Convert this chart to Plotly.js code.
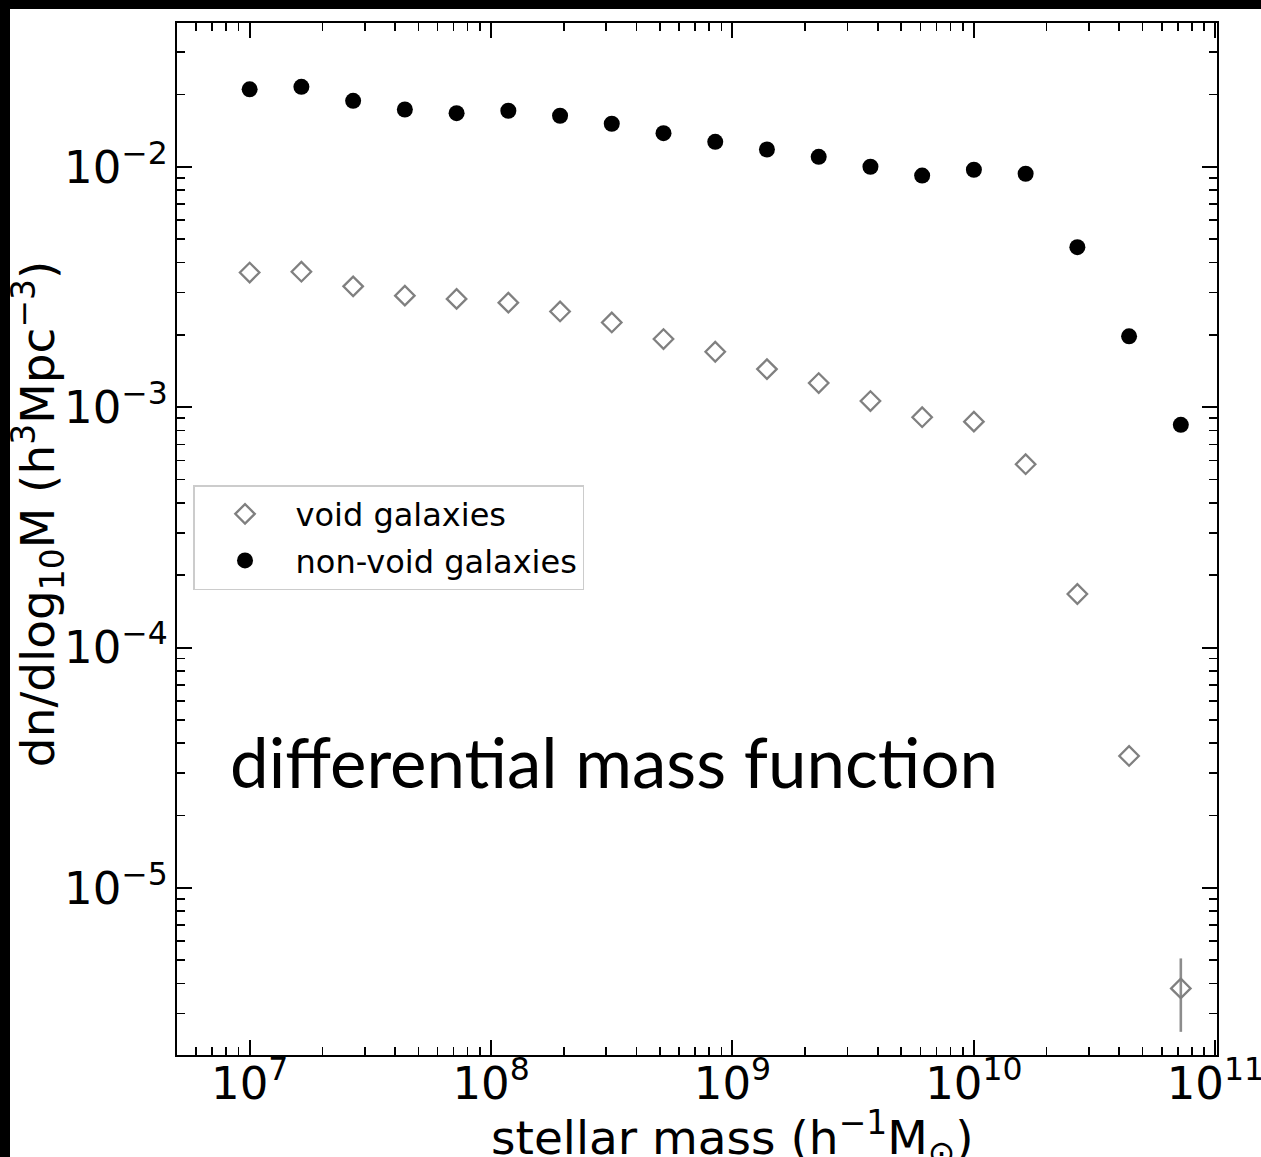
<!DOCTYPE html>
<html>
<head>
<meta charset="utf-8">
<script src="https://cdn.plot.ly/plotly-3.0.1.min.js"></script>
<style>
  html, body { margin: 0; padding: 0; background: #000; width: 1261px; height: 1157px; overflow: hidden; }
  #plot { position: absolute; left: 10px; top: 9px; width: 1251px; height: 1200px; background: #fff; }
</style>
</head>
<body>
<div id="plot"></div>
<script>
// Stellar mass bin centres (h^-1 M_sun)
const stellarMass = [
  1.000e7, 1.638e7, 2.683e7, 4.394e7, 7.197e7, 1.179e8, 1.931e8, 3.162e8,
  5.179e8, 8.483e8, 1.389e9, 2.276e9, 3.728e9, 6.105e9, 1.000e10, 1.638e10,
  2.683e10, 4.394e10, 7.197e10
];

// dn/dlog10 M for galaxies inside voids (h^3 Mpc^-3)
const voidDensity = [
  3.63e-3, 3.66e-3, 3.18e-3, 2.91e-3, 2.82e-3, 2.72e-3, 2.50e-3, 2.25e-3,
  1.92e-3, 1.70e-3, 1.44e-3, 1.26e-3, 1.06e-3, 9.08e-4, 8.70e-4, 5.79e-4,
  1.67e-4, 3.54e-5, 3.82e-6
];
const voidErrUp   = [0, 0, 0, 0, 0, 0, 0, 0, 0, 0, 0, 0, 0, 0, 0, 0, 0, 0, 1.27e-6];
const voidErrDown = [0, 0, 0, 0, 0, 0, 0, 0, 0, 0, 0, 0, 0, 0, 0, 0, 0, 0, 1.30e-6];

// dn/dlog10 M for galaxies outside voids (h^3 Mpc^-3)
const nonVoidDensity = [
  2.10e-2, 2.15e-2, 1.88e-2, 1.73e-2, 1.67e-2, 1.71e-2, 1.63e-2, 1.51e-2,
  1.38e-2, 1.27e-2, 1.18e-2, 1.10e-2, 1.00e-2, 9.19e-3, 9.72e-3, 9.35e-3,
  4.63e-3, 1.97e-3, 8.44e-4
];

const seriesNames = ['void galaxies', 'non-void galaxies'];
const xTitle = 'stellar mass (h<sup>−1</sup>M<sub>⊙</sub>)';
const yTitle = 'dn/dlog<sub>10</sub>M (h<sup>3</sup>Mpc<sup>−3</sup>)';

const tickFont = { family: 'DejaVu Sans', size: 36, color: '#000' };
const labelFont = { family: 'DejaVu Sans', size: 47, color: '#000' };

const traces = [
  {
    x: stellarMass,
    y: voidDensity,
    name: seriesNames[0],
    legendgroup: 'void',
    type: 'scatter',
    mode: 'markers',
    marker: { symbol: 'diamond-open', size: 15, color: '#808080', line: { width: 2.3, color: '#808080' } },
    error_y: { type: 'data', symmetric: false, array: voidErrUp, arrayminus: voidErrDown,
               color: '#8c8c8c', thickness: 2.6, width: 0 }
  },
  {
    x: stellarMass,
    y: nonVoidDensity,
    name: seriesNames[1],
    legendgroup: 'nonvoid',
    type: 'scatter',
    mode: 'markers',
    marker: { symbol: 'circle', size: 16, color: '#000' }
  }
];

const axisCommon = {
  type: 'log',
  dtick: 1,
  exponentformat: 'power',
  showgrid: false,
  zeroline: false,
  showline: true,
  linecolor: '#000',
  linewidth: 2,
  mirror: 'allticks',
  ticks: 'inside',
  ticklen: 15,
  tickwidth: 2,
  tickcolor: '#000',
  tickfont: tickFont,
  ticklabeloverflow: 'allow',
  minor: { ticks: 'inside', ticklen: 8, tickwidth: 1.6, tickcolor: '#000', showgrid: false }
};

const layout = {
  width: 1251,
  height: 1200,
  margin: { l: 167, r: 44, t: 14, b: 154 },
  paper_bgcolor: '#fff',
  plot_bgcolor: '#fff',
  showlegend: true,
  xaxis: Object.assign({}, axisCommon, {
    range: [6.699, 11.007],
    ticklabelstandoff: -10
  }),
  yaxis: Object.assign({}, axisCommon, {
    range: [-5.695, -1.402]
  }),
  legend: {
    x: 0.0154, y: 0.5523, xanchor: 'left', yanchor: 'top',
    bgcolor: '#fff', bordercolor: '#cccccc', borderwidth: 1.5,
    font: { family: 'DejaVu Sans', size: 32, color: '#000' },
    itemwidth: 91,
    tracegroupgap: 2
  },
  annotations: [
    {
      // horizontal axis label, below the tick labels
      xref: 'paper', yref: 'paper', x: 0.534, y: -0.0795,
      xanchor: 'center', yanchor: 'middle', showarrow: false,
      text: xTitle,
      font: labelFont
    },
    {
      // vertical axis label, drawn in the left margin
      xref: 'paper', yref: 'paper', x: -0.1337, y: 0.524,
      xanchor: 'center', yanchor: 'middle', showarrow: false, textangle: -90,
      text: yTitle,
      font: labelFont
    },
    {
      xref: 'paper', yref: 'paper', x: 0.049, y: 0.284,
      xanchor: 'left', yanchor: 'middle', showarrow: false,
      text: 'differential mass function',
      font: { family: 'Lato', size: 69, color: '#000' }
    }
  ]
};

Plotly.newPlot('plot', traces, layout, { staticPlot: true, displayModeBar: false });
</script>
</body>
</html>
